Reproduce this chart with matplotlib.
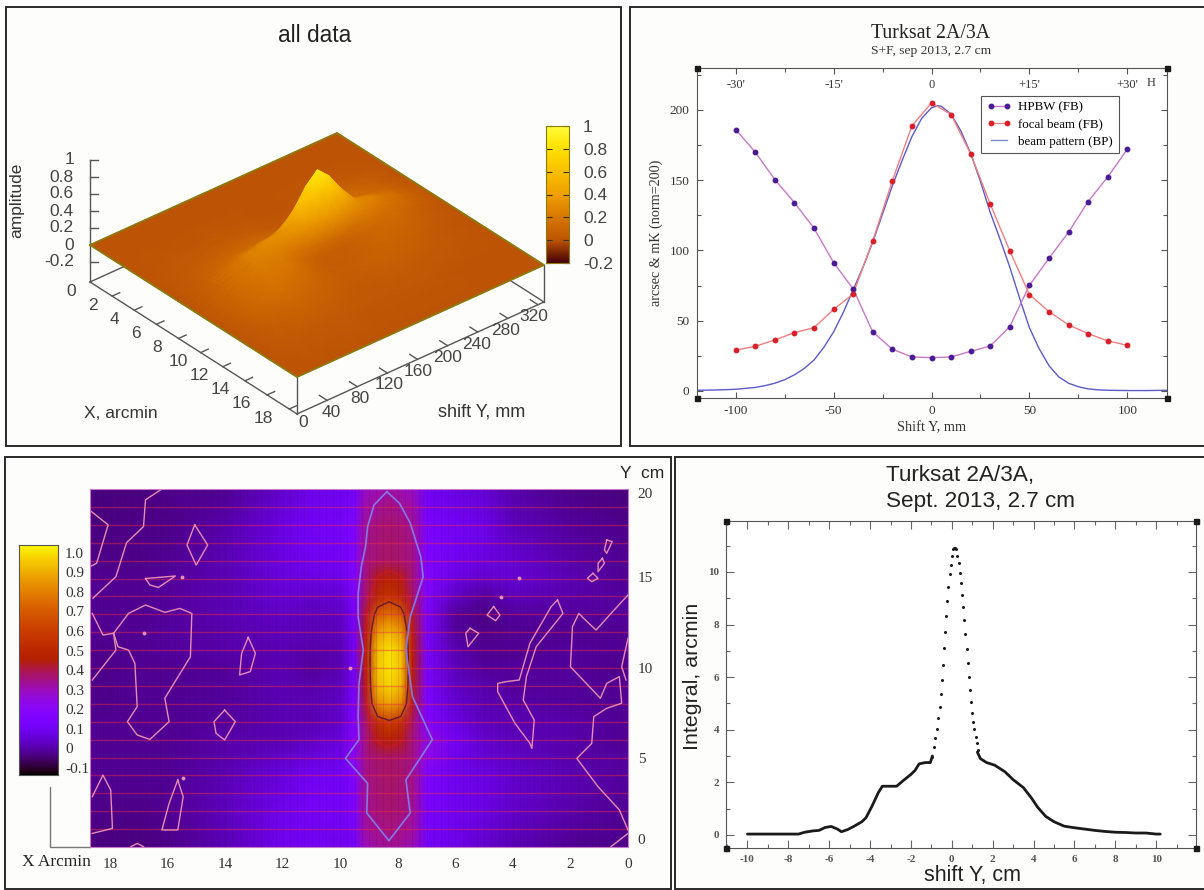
import numpy as np
import matplotlib
matplotlib.use('Agg')
import matplotlib.pyplot as plt
from matplotlib.colors import LinearSegmentedColormap
from matplotlib.patches import Rectangle
from matplotlib.ticker import MultipleLocator

plt.rcParams['axes.unicode_minus'] = False

W, H = 1204, 890
SERIF = 'Liberation Serif'
SANS = 'Liberation Sans'

# top left: amplitude surface, arcmin / mm
surf_x = [0, 2, 4, 5, 6, 7, 7.5, 7.9, 8.3, 8.7, 9.1, 9.5, 10, 11, 12, 14, 16, 18.7]
surf_y = [0, 40, 80, 110, 130, 150, 165, 180, 195, 210, 230, 260, 290, 328]
surf_z = [
    [0] * 18,
    [0, 0, .01, .02, .03, .05, .06, .07, .08, .09, .09, .1, .1, .1, .1, .06, .02, 0],
    [0, 0, .01, .03, .06, .1, .14, .18, .22, .23, .22, .22, .21, .19, .15, .07, .02, 0],
    [0, 0, .02, .04, .07, .12, .18, .24, .29, .29, .26, .23, .21, .16, .12, .06, .02, 0],
    [0, 0, .01, .03, .07, .12, .2, .26, .32, .3, .25, .18, .14, .1, .08, .04, .01, 0],
    [0, 0, .01, .02, .05, .12, .25, .4, .52, .44, .3, .15, .08, .05, .05, .03, .01, 0],
    [0, 0, 0, .01, .03, .12, .3, .56, .72, .58, .34, .13, .05, .04, .05, .03, .01, 0],
    [0, 0, 0, .01, .03, .11, .32, .66, .85, .68, .34, .12, .05, .05, .06, .03, .01, 0],
    [0, 0, 0, .01, .03, .11, .3, .56, .72, .58, .32, .12, .06, .06, .07, .04, .01, 0],
    [0, 0, .01, .01, .04, .12, .28, .44, .52, .44, .26, .14, .08, .08, .08, .04, .01, 0],
    [0, 0, .01, .03, .08, .14, .22, .28, .3, .28, .22, .15, .11, .1, .08, .03, .01, 0],
    [0, 0, .02, .06, .1, .13, .17, .2, .22, .2, .17, .14, .12, .09, .06, .02, 0, 0],
    [0, 0, .01, .04, .06, .08, .1, .11, .12, .11, .1, .08, .06, .04, .02, .01, 0, 0],
    [0] * 18,
]
surf_xticks = [2, 4, 6, 8, 10, 12, 14, 16, 18]
surf_yticks = [40, 80, 120, 160, 200, 240, 280, 320]
surf_zticks = [-0.2, 0, 0.2, 0.4, 0.6, 0.8, 1]

# top right: beam scan
scan_x = [-100, -90, -80, -70, -60, -50, -40, -30, -20, -10, 0, 10, 20, 30, 40, 50, 60, 70, 80, 90, 100]
hpbw = [186, 170, 150.4, 134, 115.8, 91.3, 72.6, 42, 29.7, 24.2, 23.7, 24.2, 28.2, 32, 45.8, 75.2, 94.4, 113, 134.8, 152.3, 172]
focal = [29, 31.8, 36.3, 41.5, 45, 58, 69, 106.8, 149.5, 188.6, 205, 196.7, 168.7, 133, 99.6, 68.6, 56.5, 47, 40.8, 35.6, 32.5]
beam_x = [-120, -110, -100, -90, -85, -80, -75, -70, -65, -60, -55, -50, -45, -40, -35, -30, -25, -20, -15, -10, -5,
          0, 3, 5, 10, 15, 20, 25, 30, 35, 40, 45, 50, 55, 60, 65, 70, 75, 80, 85, 90, 100, 110, 120]
beam_y = [.5, .7, 1.2, 2.5, 3.8, 5.5, 8, 11.5, 16, 22, 31, 42, 56, 72, 88, 106, 126, 146, 164, 181, 194,
          201.5, 203, 202.5, 197, 185, 169, 149, 127, 108, 88, 66, 45, 30, 18, 10, 5.5, 3, 1.5, .8, .5, .3, .3, .5]
top_marks = [-100, -50, 0, 50, 100]
top_labels = ["-30'", "-15'", "0", "+15'", "+30'"]

# bottom left: map, arcmin / cm
map_x = [0, 2, 4, 5, 6, 7, 7.5, 7.9, 8.3, 8.7, 9.1, 9.5, 10, 11, 12, 14, 16, 17, 18.7]
map_y = [0, 2, 4, 5, 6, 7, 8, 9, 10, 11, 12, 13, 14, 15, 16, 18, 20]
map_z = [
    [-.03, -.02, .01, .04, .08, .11, .31, .33, .34, .33, .31, .11, .09, .1, .09, .01, -.03, -.04, -.04],
    [-.02, 0, .04, .07, .1, .13, .34, .36, .37, .36, .34, .14, .11, .12, .09, .02, -.02, -.03, -.03],
    [-.01, .01, .04, .07, .09, .15, .35, .37, .38, .37, .35, .17, .11, .1, .06, .01, -.02, -.02, -.02],
    [-.01, 0, .03, .05, .09, .23, .35, .37, .38, .37, .35, .23, .08, .06, .04, 0, -.02, -.02, -.02],
    [-.02, 0, .02, .04, .11, .25, .36, .44, .47, .44, .36, .19, .06, .03, .01, 0, -.02, -.02, -.02],
    [-.02, 0, .01, .02, .07, .17, .38, .54, .6, .54, .38, .16, .04, .01, .01, -.01, -.02, -.02, -.02],
    [-.02, -.01, 0, .01, .05, .15, .42, .82, .88, .82, .42, .15, .03, .01, .01, -.01, -.02, -.02, -.03],
    [-.02, -.01, -.01, 0, .03, .14, .44, .92, .98, .92, .44, .13, .02, 0, .01, -.01, -.02, -.02, -.03],
    [-.03, -.01, -.01, -.01, .02, .13, .45, .95, 1.0, .95, .45, .12, .01, -.01, .01, -.01, -.02, -.02, -.03],
    [-.02, -.01, -.02, -.02, .01, .13, .45, .94, 1.0, .94, .45, .12, .01, 0, .01, 0, -.01, -.02, -.03],
    [-.02, -.02, -.02, -.03, -.01, .13, .44, .86, .92, .86, .44, .12, .02, .01, .02, 0, -.01, -.02, -.02],
    [-.01, -.01, -.01, -.03, -.01, .14, .42, .7, .76, .7, .42, .13, .03, .02, .03, .01, -.01, -.02, -.02],
    [-.01, 0, .02, -.01, .03, .16, .38, .5, .56, .5, .38, .15, .05, .04, .05, .01, -.01, -.02, -.02],
    [-.02, .01, .05, .04, .07, .17, .36, .44, .47, .44, .36, .17, .08, .07, .06, .01, -.01, -.02, -.02],
    [-.02, 0, .05, .07, .1, .16, .35, .37, .38, .37, .35, .16, .11, .1, .07, .01, -.02, -.03, -.03],
    [-.03, -.01, .02, .08, .11, .14, .34, .36, .37, .36, .34, .15, .12, .11, .07, 0, -.03, -.03, -.04],
    [-.04, -.03, 0, .05, .07, .1, .29, .31, .33, .31, .29, .11, .09, .08, .04, -.02, -.03, -.04, -.04],
]
map_ticks = [0, 5, 10, 15, 20]
map_tick_y = [.43, 4.95, 10, 15.07, 19.8]
map_xticks = [18, 16, 14, 12, 10, 8, 6, 4, 2, 0]
map_cbar_ticks = [1.0, .9, .8, .7, .6, .5, .4, .3, .2, .1, 0, -.1]

blue_x = [8.38, 8.83, 9.05, 9.12, 9.27, 9.38, 9.38, 9.2, 9.35, 9.38, 9.35, 9.82, 9.05, 9.08, 8.31, 7.57, 7.72, 6.8, 7.49, 7.72, 7.57, 7.12, 7.2, 7.57, 7.94, 8.38]
blue_y = [19.85, 19.1, 17.9, 16.8, 15.65, 14.15, 12.85, 11, 9.15, 7.3, 6, 4.95, 3.55, 1.9, .35, 1.9, 3.75, 6, 8.4, 11, 12.85, 15.1, 16.2, 18.1, 19.2, 19.85]
pink_contours = [
    [(16.2, 20), (16.77, 19.4), (16.84, 17.9), (17.43, 17), (17.8, 15.1), (18.6, 13.9)],
    [(18.7, 18.8), (18.07, 18), (18.47, 15.85), (18.7, 15.66)],
    [(18.62, 9.33), (17.8, 11), (17.88, 11.94), (18.25, 11.84), (18.62, 13.05)],
    [(17.88, 11.94), (17.36, 13.05), (16.77, 13.52), (16.1, 13.11), (15.58, 13.33), (15.16, 13.05), (15.21, 10.63), (16.1, 8.31),
     (15.95, 7), (16.62, 6.01), (17.06, 6.26), (17.4, 7), (17.06, 7.84), (17.14, 10.26), (17.36, 11), (17.73, 11.19), (17.88, 11.94)],
    [(15.06, 18), (14.61, 16.87), (15.01, 15.75), (15.33, 16.87), (15.06, 18)],
    [(16.77, 15), (15.73, 15.14), (16.32, 14.5), (16.62, 14.64), (16.77, 15)],
    [(13.2, 11.71), (12.95, 10.82), (13.13, 9.8), (13.5, 9.61), (13.43, 10.82), (13.2, 11.71)],
    [(14.02, 7.65), (13.65, 7), (14.02, 5.98), (14.32, 6.35), (14.39, 7), (14.02, 7.65)],
    [(18.62, 2.81), (18.25, 4.02), (17.98, 3.18), (17.92, 1.04), (18.62, .76)],
    [(15.65, 3.74), (15.46, 2.81), (15.65, .95), (16.2, .95), (15.95, 2.44), (15.65, 3.74)],
    [(17.28, .02), (17.06, .2), (16.84, .02)],
    [(5.49, 12.22), (5.19, 11.94), (5.56, 11.19), (5.64, 11.94), (5.49, 12.22)],
    [(4.67, 13.43), (4.45, 12.96), (4.6, 12.64), (4.9, 12.96), (4.67, 13.43)],
    [(2.45, 13.8), (2.26, 13.05), (3.19, 11.19), (3.53, 9.52), (3.64, 8.21), (3.26, 7.09), (3.34, 5.51), (3.41, 5.79), (3.93, 6.91),
     (4.53, 8.68), (4.53, 9.14), (4.23, 9.24), (3.78, 9.33), (3.41, 11.38), (2.67, 13.43), (2.45, 13.8)],
    [(0, 14.08), (.59, 13.05), (1.11, 12.12), (1.48, 12.68), (1.71, 13.05), (1.93, 12.31), (2, 10.07), (.96, 8.31), (.74, 9.14), (.3, 9.52),
     (.22, 8.03), (.74, 7.75), (1.19, 7.28), (1.26, 5.79), (1.78, 4.95), (1.04, 3.37), (.3, 2.07), (0, .95)],
    [(0, 11.66), (.22, 10.07), (.07, 9.33)],
    [(.74, 17.15), (.55, 17.06), (.74, 16.41), (.82, 16.59), (.74, 17.15)],
    [(.89, 16.13), (.82, 15.85), (1.04, 15.38), (1.04, 15.85), (.89, 16.13)],
    [(1.22, 15.29), (1.04, 15.01), (1.26, 14.82), (1.41, 15.01), (1.22, 15.29)],
    [(0, .76), (.59, .02)],
]
pink_dots_x = [3.78, 16.84, 4.41, 9.67, 15.5, 15.46]
pink_dots_y = [15.01, 11.97, 13.99, 9.98, 15.06, 3.84]

# bottom right: integral
wing_left_x = [-10, -8, -7.5, -7.2, -6.8, -6.5, -6.2, -5.9, -5.6, -5.4, -5.1, -4.8, -4.4, -4.2, -3.9, -3.6, -3.4, -3.1, -2.7, -2.4, -2, -1.8, -1.6, -1.3, -1.05, -.95]
wing_left_y = [.03, .03, .03, .1, .15, .17, .28, .32, .22, .12, .2, .32, .5, .65, 1.1, 1.6, 1.85, 1.85, 1.85, 2.05, 2.3, 2.45, 2.7, 2.75, 2.75, 3.0]
wing_right_x = [1.25, 1.4, 1.7, 2.1, 2.6, 3, 3.5, 3.9, 4.2, 4.6, 5, 5.5, 6, 6.5, 7, 7.5, 8, 8.5, 9, 9.5, 10, 10.2]
wing_right_y = [3.15, 2.9, 2.75, 2.65, 2.4, 2.1, 1.8, 1.4, 1.05, .7, .5, .33, .27, .22, .17, .13, .1, .09, .07, .07, .03, .03]
peak_x = [-.97, -.88, -.8, -.72, -.68, -.58, -.55, -.47, -.43, -.4, -.33, -.3, -.22, -.18, -.1, -.05, .03, .08, .12, .17, .22,
          .25, .33, .38, .45, .5, .57, .62, .67, .72, .78, .83, .9, .95, 1, 1.05, 1.1, 1.17, 1.23, 1.3]
peak_y = [2.97, 3.35, 3.67, 4.01, 4.43, 4.85, 5.34, 5.89, 6.48, 7.09, 7.71, 8.32, 8.9, 9.43, 9.91, 10.28, 10.59, 10.86, 10.9, 10.91, 10.88,
          10.6, 10.34, 9.97, 9.58, 9.14, 8.67, 8.16, 7.63, 7.06, 6.52, 5.99, 5.5, 5.06, 4.65, 4.3, 4.03, 3.73, 3.48, 3.23]

hot = LinearSegmentedColormap.from_list('hot3d', [
    (0.0, '#460000'), (1 / 6, '#be5505'), (2 / 6, '#d77800'), (3 / 6, '#f0a000'),
    (4 / 6, '#fac000'), (5 / 6, '#ffe100'), (1.0, '#ffff3c')])


def panel_axes(left, top, right, bottom):
    return fig.add_axes([left / W, 1 - bottom / H, (right - left) / W, (bottom - top) / H])


def proj(x, y, z):
    # gnuplot style oblique view, result in picture pixels
    sx = 90 + 207 * np.asarray(x) / 18.7 + 247 * np.asarray(y) / 328
    sy = 245 + 132 * np.asarray(x) / 18.7 - 112 * np.asarray(y) / 328 - 85 * np.asarray(z)
    return sx, sy


def corner_squares(ax):
    ax.plot([0, 1, 0, 1], [0, 0, 1, 1], 's', color='#1a1a1a', ms=3.6, transform=ax.transAxes, clip_on=False, zorder=6)


fig = plt.figure(figsize=(W / 100, H / 100), dpi=100, facecolor='white')
page = fig.add_axes([0, 0, 1, 1])
page.axis('off')
for left, top, right, bottom in [(6, 7, 621, 446), (630, 7, 1208, 446), (5, 457, 671, 889), (675, 457, 1208, 889)]:
    page.add_patch(Rectangle((left, top), right - left, bottom - top, fc='#fdfefc', ec='#2a2a2a', lw=1.4, zorder=0))

# ---- surface panel
BASE = -0.435
EDGE = '#555555'
line_kw = dict(color=EDGE, lw=1.0, zorder=1)
xmax, ymax = surf_x[-1], surf_y[-1]
for p, q in [((0, 0), (xmax, 0)), ((xmax, 0), (xmax, ymax)), ((0, 0), (0, ymax)), ((0, ymax), (xmax, ymax))]:
    sx, sy = proj([p[0], q[0]], [p[1], q[1]], [BASE, BASE])
    page.plot(sx, sy, **line_kw)
for x0, y0 in [(xmax, 0), (xmax, ymax)]:
    sx, sy = proj([x0, x0], [y0, y0], [BASE, 0])
    page.plot(sx, sy, **line_kw)
sx, sy = proj([0, 0], [0, 0], [BASE, 1])
page.plot(sx, sy, **line_kw)
for z in surf_zticks:
    sx, sy = proj(0, 0, z)
    page.plot([sx, sx + 8], [sy, sy], **line_kw)
    page.text(sx - 16, sy, '%g' % z, ha='right', va='center', family=SANS, fontsize=12.5, color='#444444')
for x in surf_xticks:
    sx, sy = proj([x, x], [0, 10], [BASE, BASE])
    page.plot(sx, sy, **line_kw)
    page.text(sx[0] - 19 - 0.45 * (x - 2), sy[0] + 9, '%d' % x, ha='center', va='center', family=SANS, fontsize=12.5, color='#444444')
sx, sy = proj(0, 0, BASE)
page.text(sx - 19, sy + 10, '0', ha='center', va='center', family=SANS, fontsize=12.5, color='#444444')
for y in surf_yticks:
    sx, sy = proj([xmax, xmax - 0.7], [y, y], [BASE, BASE])
    page.plot(sx, sy, **line_kw)
    page.text(sx[0] + 4 - 0.028 * (y - 40), sy[0] + 12, '%d' % y, ha='center', va='center', family=SANS, fontsize=12.5, color='#444444')
sx, sy = proj(xmax, 0, BASE)
page.text(sx + 6, sy + 9, '0', ha='center', va='center', family=SANS, fontsize=12.5, color='#444444')

grid_x, grid_y = np.meshgrid(surf_x, surf_y[::-1])
grid_z = np.array(surf_z)[::-1]
sx, sy = proj(grid_x, grid_y, grid_z)
page.pcolormesh(sx, sy, grid_z, shading='gouraud', cmap=hot, vmin=-0.2, vmax=1, zorder=2)
sx, sy = proj([0, 0, xmax, xmax, 0], [0, ymax, ymax, 0, 0], [0, 0, 0, 0, 0])
page.plot(sx, sy, color='#8a7a10', lw=1.3, zorder=3)

page.text(315, 36, 'all data', ha='center', va='center', family=SANS, fontsize=16.4, color='#222222')
page.text(17, 200, 'amplitude', rotation=90, ha='center', va='center', family=SANS, fontsize=12.5, color='#333333')
page.text(121, 413, 'X, arcmin', ha='center', va='center', family=SANS, fontsize=12.5, color='#333333')
page.text(482, 412, 'shift Y, mm', ha='center', va='center', family=SANS, fontsize=13, color='#333333')

cbar1 = panel_axes(546, 126, 569, 263)
cbar1.imshow(np.linspace(1, -0.2, 256)[:, None], aspect='auto', cmap=hot, vmin=-0.2, vmax=1, extent=[0, 1, -0.2, 1])
cbar1.set_xticks([])
cbar1.set_yticks(surf_zticks, ['%g' % v for v in surf_zticks])
cbar1.tick_params(axis='y', direction='in', left=True, right=True, labelleft=False, labelright=True, length=4, width=0.8,
                  color='#333333', labelsize=12.5, labelcolor='#444444', pad=10)
for label in cbar1.get_yticklabels():
    label.set_family(SANS)
for s in cbar1.spines.values():
    s.set_color('#8a7a10')

# ---- beam panel
ax = panel_axes(696.5, 67.7, 1166.5, 398)
ax.plot(beam_x, beam_y, color='#5a5ac8', lw=1.0, zorder=2)
ax.plot(scan_x, hpbw, color='#c878c8', lw=1.0, zorder=3)
ax.plot(scan_x, focal, color='#f08080', lw=1.0, zorder=3)
ax.plot(scan_x, hpbw, 'o', color='#4b1a96', ms=3.2, zorder=4)
ax.plot(scan_x, focal, 'o', color='#d8202a', ms=3.2, zorder=4)
ax.set_xlim(-120, 120)
ax.set_ylim(-5, 230)
ax.xaxis.set_major_locator(MultipleLocator(50))
ax.xaxis.set_minor_locator(MultipleLocator(25))
ax.yaxis.set_major_locator(MultipleLocator(50))
ax.yaxis.set_minor_locator(MultipleLocator(25))
ax.tick_params(which='both', direction='in', top=True, right=True, color='#555555', width=0.8)
ax.tick_params(which='major', length=4.5, labelsize=9.5, labelcolor='#333333', pad=5)
ax.tick_params(which='minor', length=3)
for label in ax.get_xticklabels() + ax.get_yticklabels():
    label.set_family(SERIF)
for s in ax.spines.values():
    s.set_color('#555555')
for x, text in zip(top_marks, top_labels):
    ax.text(x, 218, text, ha='center', va='center', family=SERIF, fontsize=9, color='#333333')
ax.text(112, 219, 'H', ha='center', va='center', family=SERIF, fontsize=9, color='#333333')
ax.set_xlabel('Shift Y, mm', family=SERIF, fontsize=10.4, color='#333333', labelpad=3)
ax.set_ylabel('arcsec & mK (norm=200)', family=SERIF, fontsize=10.2, color='#333333', labelpad=5)
purple_key, = ax.plot([], [], '-o', color='#c878c8', mfc='#4b1a96', mec='#4b1a96', lw=1.0, ms=3.2)
red_key, = ax.plot([], [], '-o', color='#f08080', mfc='#d8202a', mec='#d8202a', lw=1.0, ms=3.2)
blue_key, = ax.plot([], [], '-', color='#7a8ad0', lw=1.0)
leg = ax.legend([purple_key, red_key, blue_key], ['HPBW (FB)', 'focal beam (FB)', 'beam pattern (BP)'],
                loc='upper left', bbox_to_anchor=(0.605, 0.915), borderaxespad=0, fancybox=False, numpoints=2,
                prop={'family': SERIF, 'size': 9.3}, labelspacing=0.38, handlelength=1.9, handletextpad=0.55,
                borderpad=0.45, framealpha=1)
leg.get_frame().set_edgecolor('#555555')
leg.get_frame().set_linewidth(0.8)
leg.set_zorder(5)
corner_squares(ax)
page.text(931, 33, 'Turksat 2A/3A', ha='center', va='center', family=SERIF, fontsize=14.3, color='#222222')
page.text(931, 51, 'S+F, sep 2013, 2.7 cm', ha='center', va='center', family=SERIF, fontsize=9.7, color='#333333')

# ---- map panel
ax = panel_axes(90, 489, 628, 847)
ax.pcolormesh(map_x, map_y, np.array(map_z), shading='gouraud', cmap='gnuplot', vmin=-0.14, vmax=1.05)
ax.contour(map_x, map_y, np.array(map_z), levels=[0.43], colors='#d01818', linewidths=0.8)
ax.contour(map_x, map_y, np.array(map_z), levels=[0.62], colors='#6a1a30', linewidths=1.0)
ax.vlines(np.arange(0.25, 18.7, 0.25), 0, 20, color='#30003a', lw=0.6, alpha=0.12)
ax.hlines(np.arange(1, 20), 0, 18.7, color='#e8304a', lw=1.0, alpha=0.45)
for c in pink_contours:
    ax.plot([p[0] for p in c], [p[1] for p in c], color='#e88cb4', lw=1.0)
ax.plot(pink_dots_x, pink_dots_y, 'o', color='#e88cb4', ms=1.8)
ax.plot(blue_x, blue_y, color='#8478ec', lw=1.2)
ax.set_xlim(18.7, 0)
ax.set_ylim(0, 20)
ax.yaxis.tick_right()
ax.set_xticks(map_xticks, ['%d' % v for v in map_xticks])
ax.set_yticks(map_tick_y, ['%d' % v for v in map_ticks])
ax.tick_params(length=0, labelcolor='#333333', labelsize=11)
ax.tick_params(axis='x', pad=8)
ax.tick_params(axis='y', pad=7)
for label in ax.get_xticklabels() + ax.get_yticklabels():
    label.set_family(SERIF)
for s in ax.spines.values():
    s.set_color('#c878c8')
    s.set_linewidth(0.8)

page.plot([50, 50, 90], [787, 847, 847], color='#777777', lw=1.0)
page.text(56, 862, 'X Arcmin', ha='center', va='center', family=SERIF, fontsize=12.5, color='#222222')
page.text(642, 473, 'Y  cm', ha='center', va='center', family=SANS, fontsize=12.5, color='#222222')

cbar3 = panel_axes(19, 545, 58, 775)
cbar3.imshow(np.linspace(1.04, -0.136, 256)[:, None], aspect='auto', cmap='gnuplot', vmin=-0.14, vmax=1.05,
             extent=[0, 1, -0.136, 1.04])
cbar3.set_xticks([])
cbar3.yaxis.tick_right()
cbar3.set_yticks(map_cbar_ticks, ['%.1f' % v if v != 0 else '0' for v in map_cbar_ticks])
cbar3.tick_params(axis='y', length=0, labelsize=11, labelcolor='#333333', pad=5)
for label in cbar3.get_yticklabels():
    label.set_family(SERIF)
for s in cbar3.spines.values():
    s.set_color('#555555')

# ---- integral panel
ax = panel_axes(726, 521, 1196, 848)
ax.plot(wing_left_x, wing_left_y, color='#1a1a1a', lw=2.0, solid_capstyle='round', solid_joinstyle='round')
ax.plot(wing_right_x, wing_right_y, color='#1a1a1a', lw=2.0, solid_capstyle='round', solid_joinstyle='round')
ax.plot(peak_x, peak_y, 'o', color='#1a1a1a', ms=2.2, mew=0)
ax.set_xlim(-11.05, 11.95)
ax.set_ylim(-0.5, 11.94)
ax.xaxis.set_major_locator(MultipleLocator(2))
ax.xaxis.set_minor_locator(MultipleLocator(1))
ax.yaxis.set_major_locator(MultipleLocator(2))
ax.yaxis.set_minor_locator(MultipleLocator(1))
ax.tick_params(which='both', direction='in', top=True, right=True, color='#666666', width=0.8)
ax.tick_params(which='major', length=6, labelsize=8, labelcolor='#555555', pad=5)
ax.tick_params(which='minor', length=3)
for label in ax.get_xticklabels() + ax.get_yticklabels():
    label.set_family(SERIF)
    label.set_fontweight('bold')
for s in ax.spines.values():
    s.set_color('#555555')
corner_squares(ax)
page.text(886, 476, 'Turksat 2A/3A,', ha='left', va='center', family=SANS, fontsize=16.2, color='#222222')
page.text(886, 502, 'Sept. 2013, 2.7 cm', ha='left', va='center', family=SANS, fontsize=16.2, color='#222222')
page.text(693, 676, 'Integral, arcmin', rotation=90, ha='center', va='center', family=SANS, fontsize=15.4, color='#222222')
page.text(972, 875, 'shift Y, cm', ha='center', va='center', family=SANS, fontsize=15.5, color='#222222')

page.set_xlim(0, W)
page.set_ylim(H, 0)
fig.savefig('out.png', dpi=100)
